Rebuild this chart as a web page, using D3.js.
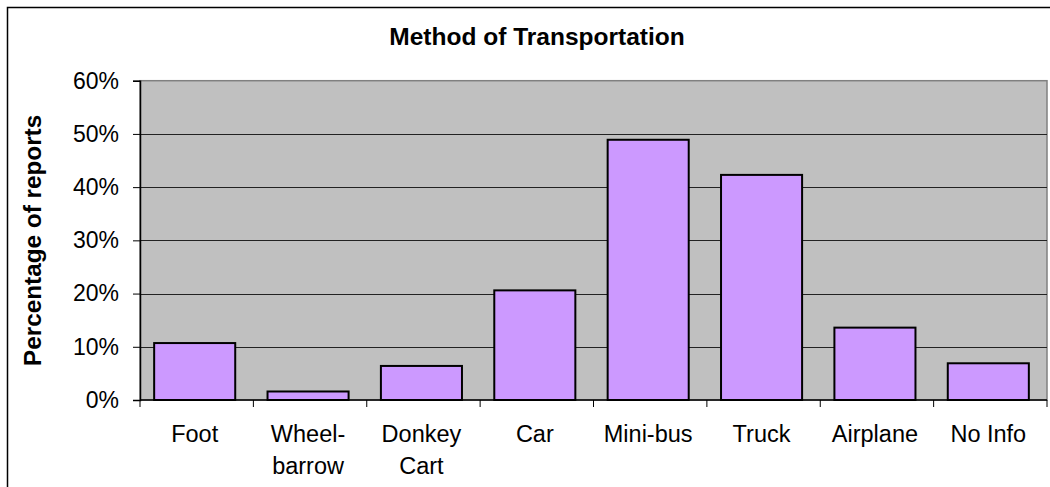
<!DOCTYPE html>
<html>
<head>
<meta charset="utf-8">
<script src="https://cdn.jsdelivr.net/npm/d3@7"></script>
<style>
  body { margin: 0; background: #fff; }
  svg text { font-family: Arial, "Liberation Sans", sans-serif; fill: #000; }
</style>
</head>
<body>
<div id="chart-area"></div>
<script>
// --> DATA

var categories = ["Foot", "Wheelbarrow", "Donkey Cart", "Car", "Mini-bus", "Truck", "Airplane", "No Info"];
var tickLines = [["Foot"], ["Wheel-", "barrow"], ["Donkey", "Cart"], ["Car"], ["Mini-bus"], ["Truck"], ["Airplane"], ["No Info"]];
var percentages = [0.107, 0.016, 0.064, 0.206, 0.489, 0.423, 0.136, 0.069];
var yTicks = [0, 0.1, 0.2, 0.3, 0.4, 0.5, 0.6];

// --> CREATE SVG DRAWING AREA

var width = 1050, height = 487;
var plot = {left: 140, right: 1047, top: 80.7, bottom: 400};

var svg = d3.select("#chart-area").append("svg")
    .attr("width", width)
    .attr("height", height);

// outer chart border (runs off the right and bottom edges)
svg.append("rect")
    .attr("x", 7.5).attr("y", 7.5)
    .attr("width", 1100).attr("height", 600)
    .attr("fill", "#fff")
    .attr("stroke", "#000")
    .attr("stroke-width", 1.5);

// scales
var x = d3.scaleBand()
    .domain(categories)
    .range([plot.left, plot.right])
    .paddingInner(0.285)
    .paddingOuter(0.1425);

var y = d3.scaleLinear()
    .domain([0, 0.6])
    .range([plot.bottom, plot.top]);

// plot background
svg.append("rect")
    .attr("x", plot.left).attr("y", plot.top)
    .attr("width", plot.right - plot.left)
    .attr("height", plot.bottom - plot.top)
    .attr("fill", "#c0c0c0")
    .attr("stroke", "#808080")
    .attr("stroke-width", 1.5);

// gridlines
svg.selectAll(".grid")
    .data(yTicks.slice(1, -1))
    .enter().append("line")
    .attr("class", "grid")
    .attr("x1", plot.left).attr("x2", plot.right)
    .attr("y1", function(d) { return Math.round(y(d)) + 0.5; })
    .attr("y2", function(d) { return Math.round(y(d)) + 0.5; })
    .attr("stroke", "#222")
    .attr("stroke-width", 1.2);

// bars
svg.selectAll(".bar")
    .data(percentages)
    .enter().append("rect")
    .attr("class", "bar")
    .attr("x", function(d, i) { return x(categories[i]) - 2; })
    .attr("y", function(d) { return y(d); })
    .attr("width", x.bandwidth())
    .attr("height", function(d) { return y(0) - y(d); })
    .attr("fill", "#cc99ff")
    .attr("stroke", "#000")
    .attr("stroke-width", 2);

// y axis
var yAxis = svg.append("g")
    .attr("transform", "translate(" + plot.left + ",0)")
    .call(d3.axisLeft(y).tickValues(yTicks).tickFormat(d3.format(".0%")).tickSize(7).tickPadding(14));

yAxis.select(".domain").attr("stroke", "#000").attr("stroke-width", 1.5);
yAxis.selectAll(".tick line").attr("stroke", "#000");
yAxis.selectAll(".tick text")
    .style("font-size", "23px")
    .attr("fill", "#000");

// x axis line and ticks at band edges
var step = x.step();
var edges = d3.range(categories.length + 1).map(function(i) { return plot.left + i * step; });

svg.append("line")
    .attr("x1", plot.left).attr("x2", plot.right)
    .attr("y1", plot.bottom).attr("y2", plot.bottom)
    .attr("stroke", "#000").attr("stroke-width", 1.5);

svg.selectAll(".xtick")
    .data(edges)
    .enter().append("line")
    .attr("class", "xtick")
    .attr("x1", function(d) { return d; }).attr("x2", function(d) { return d; })
    .attr("y1", plot.bottom).attr("y2", plot.bottom + 7)
    .attr("stroke", "#000");

// x labels
var xLabel = svg.selectAll(".x-label")
    .data(categories)
    .enter().append("text")
    .attr("class", "x-label")
    .attr("text-anchor", "middle")
    .style("font-size", "23.5px")
    .attr("y", 442);

xLabel.each(function(d, i) {
    var t = d3.select(this);
    tickLines[i].forEach(function(line, j) {
        t.append("tspan")
            .attr("x", x(d) + x.bandwidth() / 2 - 2)
            .attr("dy", j === 0 ? 0 : 31.5)
            .text(line);
    });
});

// title
svg.append("text")
    .attr("x", 537)
    .attr("y", 45)
    .attr("text-anchor", "middle")
    .style("font-size", "24.5px")
    .style("font-weight", "bold")
    .text("Method of Transportation");

// y axis title
svg.append("text")
    .attr("transform", "translate(41," + (plot.top + plot.bottom) / 2 + ") rotate(-90)")
    .attr("text-anchor", "middle")
    .style("font-size", "24.3px")
    .style("font-weight", "bold")
    .text("Percentage of reports");
</script>
</body>
</html>
